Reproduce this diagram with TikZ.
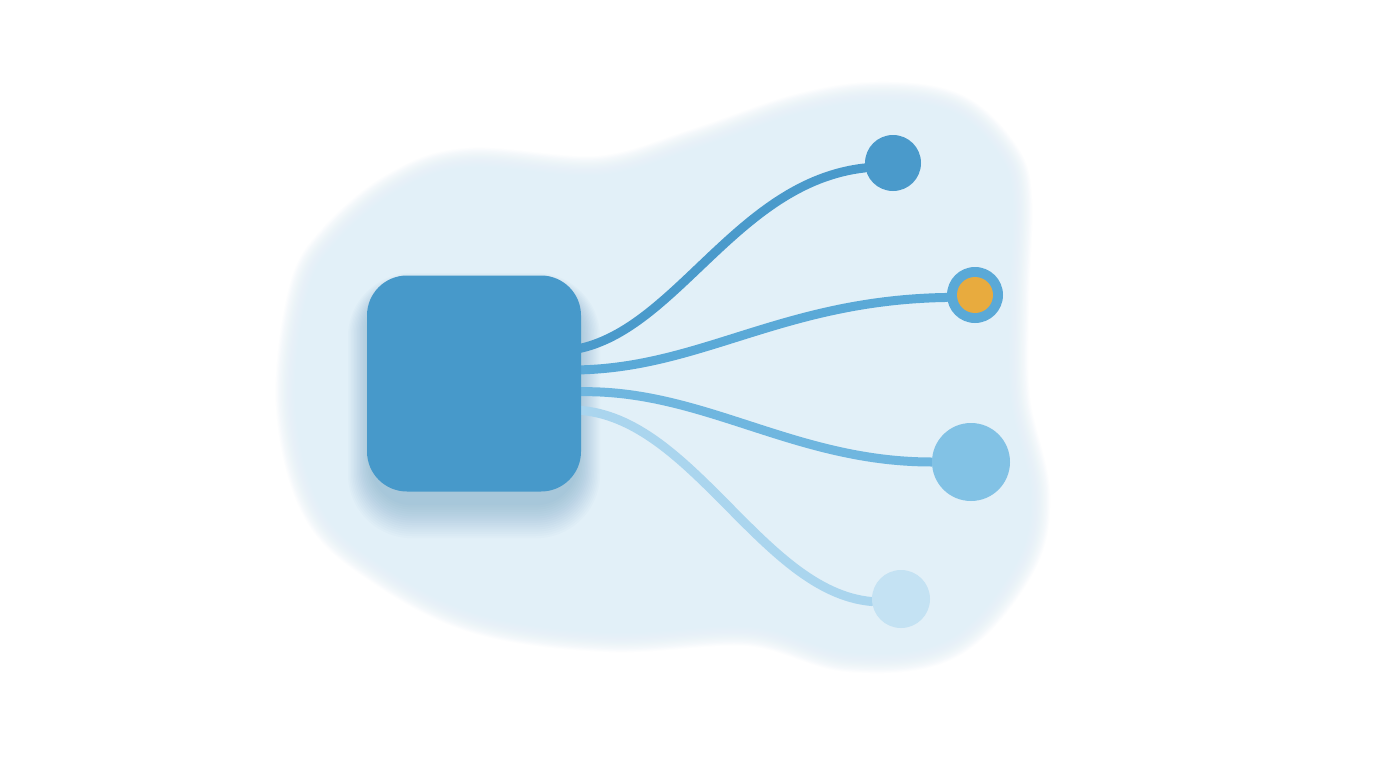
\documentclass[tikz,border=0pt]{standalone}
\usetikzlibrary{calc}
\definecolor{blobc}{HTML}{E2F0F8}
\definecolor{hubc}{HTML}{4799CA}
\definecolor{shadc}{HTML}{3A80B2}
\definecolor{c1}{HTML}{4A9ACB}
\definecolor{c2}{HTML}{5AA9D7}
\definecolor{c3}{HTML}{6FB6DF}
\definecolor{c3n}{HTML}{82C2E5}
\definecolor{c4}{HTML}{AAD5EE}
\definecolor{c4n}{HTML}{C4E2F3}
\definecolor{orangec}{HTML}{E8AB3E}
\pgfdeclarelayer{bg}
\pgfdeclarelayer{mid}
\pgfsetlayers{bg,mid,main}
\tikzset{
  hubbox/.style={rectangle, rounded corners=40pt, minimum width=214pt, minimum height=216pt, fill=hubc, inner sep=0pt},
  dot/.style={circle, inner sep=0pt, minimum size=#1},
  conn/.style={line width=9pt, line cap=round},
}
\begin{document}
\begin{tikzpicture}[x=1pt,y=-1pt]
\useasboundingbox (0,0) rectangle (1376,768);
\begin{pgfonlayer}{bg}
\fill[white] (0,0) rectangle (1376,768);
% soft background blob
\def\blobpath{plot[smooth cycle, tension=0.6] coordinates {
 (300,405) (312,295) (340,245) (400,195) (470,172) (600,180) (700,152) (800,118) (878,106)
 (950,116) (995,157) (1008,200) (1005,300) (1006,400) (1026,495) (1010,565) (945,636)
 (850,648) (750,622) (610,628) (480,610) (385,562) (325,505)}}
\fill[blobc] \blobpath;
\foreach \i in {1,...,20}{
  \draw[blobc, opacity=0.1, line width=\i*2.4pt, line join=round] \blobpath;
}
% hub shadow
\foreach \i in {1,...,16}{
  \fill[shadc, opacity=0.022, rounded corners=40pt+\i*1.5pt]
    (474-102-\i*1.5, 383+12-106-\i*1.0) rectangle (474+102+\i*1.5, 383+14+106+\i*2.2);
}
\end{pgfonlayer}
\node[hubbox] (hub) at (474,383.5) {};
% end nodes
\node[dot=56pt, fill=c1] (n1) at (893,163) {};
\node[dot=56pt, fill=c2] (n2) at (975,295) {};
\node[dot=36pt, fill=orangec] (n2in) at (n2) {};
\node[dot=78pt, fill=c3n] (n3) at (971,462) {};
\node[dot=58pt, fill=c4n] (n4) at (901,599) {};
% connectors
\begin{pgfonlayer}{mid}
\draw[conn, c4] ($(hub.east)+(-10,26.5)$) .. controls (690,410) and (760,592) .. (n4.185);
\draw[conn, c3] ($(hub.east)+(-10,8.5)$) .. controls (700,386) and (790,462) .. (n3.west);
\draw[conn, c2] ($(hub.east)+(-10,-13.5)$) .. controls (700,370) and (780,300) .. (n2.185);
\draw[conn, c1] ($(hub.east)+(-10,-33.5)$) .. controls (675,335) and (735,182) .. (n1.190);
\end{pgfonlayer}
\end{tikzpicture}
\end{document}
